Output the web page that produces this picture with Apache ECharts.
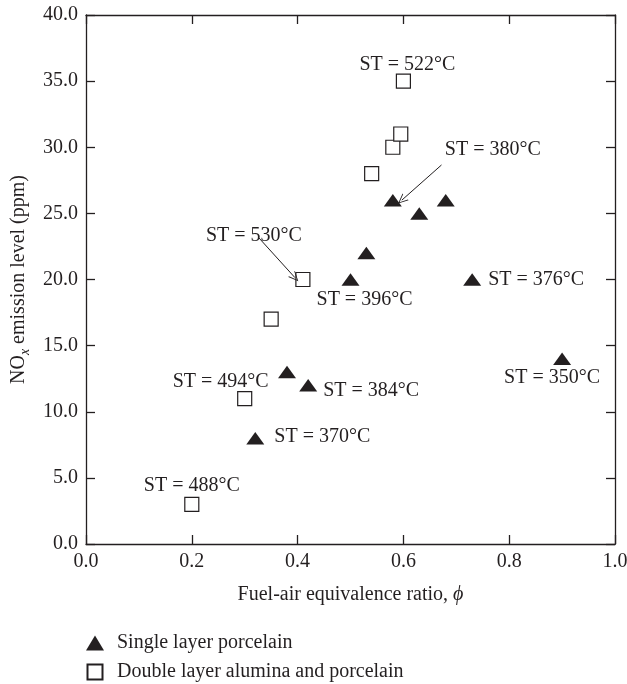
<!DOCTYPE html>
<html>
<head>
<meta charset="utf-8">
<script src="https://cdn.jsdelivr.net/npm/echarts@6/dist/echarts.min.js"></script>
<style>
  html, body { margin: 0; padding: 0; background: #fff; }
  #chart { width: 627px; height: 684px; }
</style>
</head>
<body>
<div id="chart"></div>
<script>
  // single layer porcelain (filled triangles)
  var singlePhi = [0.32, 0.38, 0.42, 0.5, 0.53, 0.58, 0.63, 0.68, 0.73, 0.9]
  var singleNox = [8, 13, 12, 20, 22, 26, 25, 26, 20, 14]
  var singleST = ['370', '', '384', '396', '', '380', '', '', '376', '350']
  // double layer alumina and porcelain (open squares)
  var doublePhi = [0.2, 0.3, 0.35, 0.41, 0.54, 0.58, 0.595, 0.6]
  var doubleNox = [3, 11, 17, 20, 28, 30, 31, 35]
  var doubleST = ['488', '494', '', '530', '', '', '', '522']
  var xTicks = [0, 0.2, 0.4, 0.6, 0.8, 1.0]
  var yTicks = [0, 5, 10, 15, 20, 25, 30, 35, 40]
  // annotation arrows [from, to] in data coords
  var arrows = [
    [[0.672, 28.66], [0.597, 26.0]],
    [[0.327, 23.14], [0.395, 20.14]]
  ]

  // label offsets (px) from the point centre
  var singleOffsets = [[67, -1], null, [63, 5], [14, 20], null, [100, -50], null, null, [64, 0], [-10, 19]]
  var doubleOffsets = [[0, -19], [-24, -17], null, [-49, -44], null, null, null, [4, -16]]

  var FONT = 'Liberation Serif'
  var INK = '#231f20'

  function buildData (xs, ys, st, offsets) {
    var out = []
    for (var i = 0; i < xs.length; i++) {
      var item = { value: [xs[i], ys[i]] }
      if (st[i]) {
        item.label = {
          show: true,
          position: 'inside',
          offset: offsets[i],
          formatter: 'ST = ' + st[i] + '°C'
        }
      }
      out.push(item)
    }
    return out
  }

  var chart = echarts.init(document.getElementById('chart'))

  var axisCommon = {
    type: 'value',
    splitLine: { show: false },
    axisLine: { show: true, onZero: false, lineStyle: { color: INK, width: 1.3 } },
    axisTick: { show: true, inside: true, length: 9, lineStyle: { color: INK, width: 1.3 } }
  }
  var labelCommon = { color: INK, fontFamily: FONT, fontSize: 20, margin: 8 }

  var option = {
    animation: false,
    backgroundColor: '#fff',
    textStyle: { fontFamily: FONT, color: INK },
    grid: { left: 86, right: 12, top: 15, bottom: 140, containLabel: false, outerBoundsMode: 'none' },
    xAxis: [
      Object.assign({}, axisCommon, {
        position: 'bottom',
        min: xTicks[0], max: xTicks[xTicks.length - 1], interval: 0.2,
        axisLabel: Object.assign({}, labelCommon, { formatter: function (v) { return v.toFixed(1) } }),
        name: '{a|Fuel-air equivalence ratio, }{i|ϕ}',
        nameLocation: 'middle',
        nameGap: 41,
        nameTextStyle: {
          rich: {
            a: { fontFamily: FONT, fontSize: 20, color: INK },
            i: { fontFamily: FONT, fontSize: 20, color: INK, fontStyle: 'italic' }
          }
        }
      }),
      Object.assign({}, axisCommon, {
        position: 'top',
        min: xTicks[0], max: xTicks[xTicks.length - 1], interval: 0.2,
        axisLabel: { show: false }
      })
    ],
    yAxis: [
      Object.assign({}, axisCommon, {
        position: 'left',
        min: yTicks[0], max: yTicks[yTicks.length - 1], interval: 5,
        axisLabel: Object.assign({}, labelCommon, { formatter: function (v) { return v.toFixed(1) } }),
        name: '{a|NO}{b|x}{a| emission level (ppm)}',
        nameLocation: 'middle',
        nameGap: 52,
        nameTextStyle: {
          rich: {
            a: { fontFamily: FONT, fontSize: 20, color: INK, lineHeight: 26, verticalAlign: 'middle' },
            b: { fontFamily: FONT, fontSize: 14, fontStyle: 'italic', color: INK, lineHeight: 26, verticalAlign: 'bottom' }
          }
        }
      }),
      Object.assign({}, axisCommon, {
        position: 'right',
        min: yTicks[0], max: yTicks[yTicks.length - 1], interval: 5,
        axisLabel: { show: false }
      })
    ],
    legend: {
      orient: 'vertical',
      left: 81,
      top: 628,
      height: 80,
      itemWidth: 18,
      itemHeight: 15,
      itemGap: 9,
      textStyle: { fontFamily: FONT, fontSize: 20, color: INK, padding: [0, 0, 0, 8] },
      data: ['Single layer porcelain', 'Double layer alumina and porcelain']
    },
    series: [
      {
        name: 'Single layer porcelain',
        type: 'scatter',
        symbol: 'path://M6,0L12,10L0,10Z',
        symbolKeepAspect: true,
        symbolSize: [18, 15],
        itemStyle: { color: INK, opacity: 1 },
        label: { color: INK, fontFamily: FONT, fontSize: 20 },
        data: buildData(singlePhi, singleNox, singleST, singleOffsets),
        markLine: {
          silent: true,
          symbol: ['none', 'path://M0,10L5,0L10,10L9,10L5,2L1,10Z'],
          symbolSize: [9, 10],
          label: { show: false },
          lineStyle: { color: INK, width: 1, type: 'solid' },
          data: arrows.map(function (a) { return [{ coord: a[0] }, { coord: a[1] }] })
        }
      },
      {
        name: 'Double layer alumina and porcelain',
        type: 'scatter',
        symbol: 'path://M0,0H10V10H0Z',
        symbolKeepAspect: true,
        symbolSize: 14,
        itemStyle: { color: '#fff', borderColor: INK, borderWidth: 1.2, opacity: 1 },
        label: { color: INK, fontFamily: FONT, fontSize: 20 },
        data: buildData(doublePhi, doubleNox, doubleST, doubleOffsets)
      }
    ]
  }
  chart.setOption(option)
</script>
</body>
</html>
